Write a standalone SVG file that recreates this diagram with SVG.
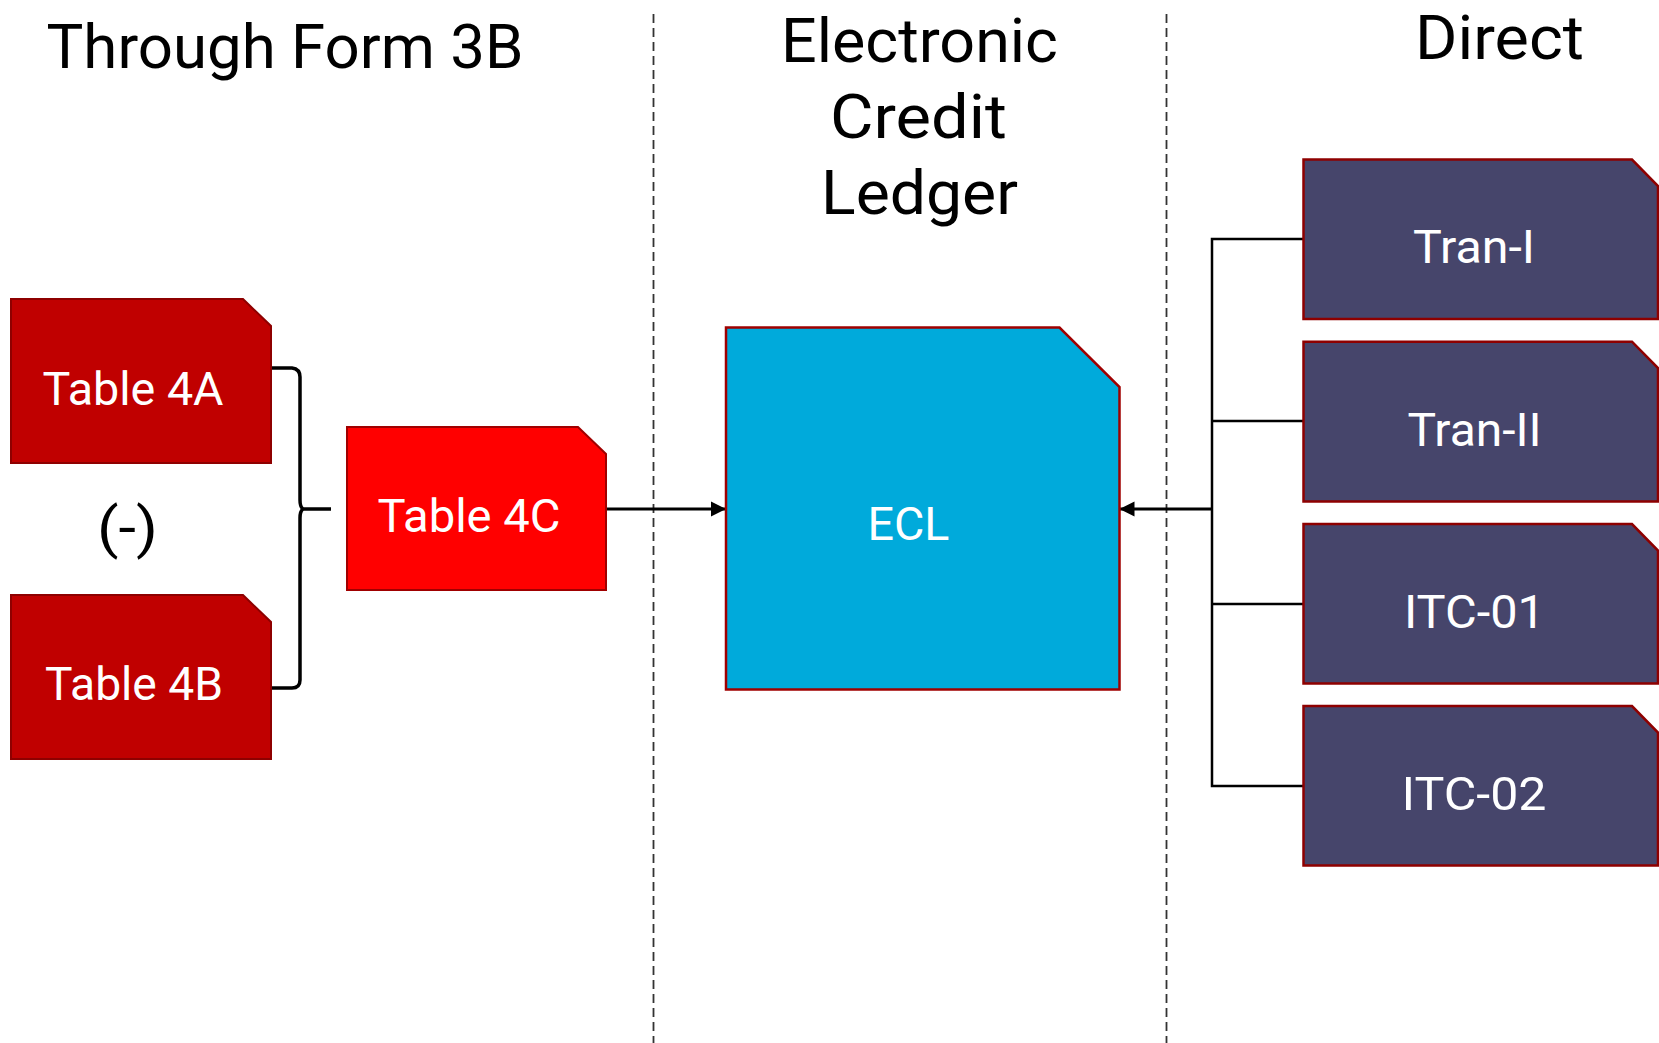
<svg xmlns="http://www.w3.org/2000/svg" width="1659" height="1043" viewBox="0 0 1659 1043">
<style>
.t{font-family:Roboto,"Liberation Sans",sans-serif;text-anchor:middle}
.title{font-size:62px;fill:#000}
.lbl{font-size:47px;fill:#fff}
.dark{fill:#C00000;stroke:#8E0000;stroke-width:2}
.red{fill:#FF0000;stroke:#A00000;stroke-width:2}
.ecl{fill:#00AADB;stroke:#A00000;stroke-width:2.5}
.navy{fill:#46456B;stroke:#8E0000;stroke-width:2.5}
.sep{stroke:#333;stroke-width:1.8;stroke-dasharray:9 5;fill:none}
.wire{stroke:#000;stroke-width:2.5;fill:none}
.thick{stroke-width:3.5}
</style>
<defs>
<marker id="arr" viewBox="0 0 10 10" refX="10" refY="5" markerWidth="15" markerHeight="16" markerUnits="userSpaceOnUse" orient="auto">
<path d="M0,0 L10,5 L0,10 z" fill="#000"/>
</marker>
</defs>
<rect width="1659" height="1043" fill="#fff"/>
<g id="separators">
<line class="sep" x1="653.5" y1="14" x2="653.5" y2="1043"/>
<line class="sep" x1="1166.5" y1="14" x2="1166.5" y2="1043"/>
</g>
<g id="titles">
<text class="t title" x="285" y="68" textLength="477" lengthAdjust="spacingAndGlyphs">Through Form 3B</text>
<text class="t title" x="919.5" y="62" textLength="277" lengthAdjust="spacingAndGlyphs">Electronic</text>
<text class="t title" x="918.5" y="138" textLength="177" lengthAdjust="spacingAndGlyphs">Credit</text>
<text class="t title" x="919.5" y="214" textLength="197" lengthAdjust="spacingAndGlyphs">Ledger</text>
<text class="t title" x="1499.5" y="59" textLength="169" lengthAdjust="spacingAndGlyphs">Direct</text>
</g>
<g id="connectors">
<path class="wire thick" d="M271,368 L292,368 Q300,369 300,377 L300,500 Q300,507 303,509 Q300,511 300,518 L300,680 Q300,688 292,688 L271,688 M303,509 L331,509"/>
<line class="wire" x1="606" y1="509" x2="726" y2="509" style="stroke-width:3.2" marker-end="url(#arr)"/>
<path class="wire" d="M1303,239 L1212,239 L1212,786 L1303,786 M1212,421 L1303,421 M1212,604 L1303,604"/>
<line class="wire" x1="1212" y1="509" x2="1119.5" y2="509" style="stroke-width:3" marker-end="url(#arr)"/>
</g>
<g id="table4a">
<path class="dark" d="M11,299 L243,299 L271,326 L271,463 L11,463 Z"/>
<text class="t lbl" x="133" y="405" textLength="181" lengthAdjust="spacingAndGlyphs">Table 4A</text>
</g>
<g id="minus">
<text class="t" x="127.5" y="547" font-size="56" fill="#000" textLength="61" lengthAdjust="spacingAndGlyphs">(-)</text>
</g>
<g id="table4b">
<path class="dark" d="M11,595 L243,595 L271,622 L271,759 L11,759 Z"/>
<text class="t lbl" x="134" y="700" textLength="178" lengthAdjust="spacingAndGlyphs">Table 4B</text>
</g>
<g id="table4c">
<path class="red" d="M347,427 L578,427 L606,454 L606,590 L347,590 Z"/>
<text class="t lbl" x="469" y="531.5" textLength="183" lengthAdjust="spacingAndGlyphs">Table 4C</text>
</g>
<g id="ecl">
<path class="ecl" d="M726,327.5 L1059.5,327.5 L1119.5,387 L1119.5,689.5 L726,689.5 Z"/>
<text class="t lbl" x="908.5" y="540" textLength="82" lengthAdjust="spacingAndGlyphs">ECL</text>
</g>
<g id="tran1">
<path class="navy" d="M1303.5,159.5 L1632,159.5 L1658,186 L1658,319 L1303.5,319 Z"/>
<text class="t lbl" x="1474" y="263" textLength="122" lengthAdjust="spacingAndGlyphs">Tran-I</text>
</g>
<g id="tran2">
<path class="navy" d="M1303.5,341.7 L1632,341.7 L1658,368 L1658,501.5 L1303.5,501.5 Z"/>
<text class="t lbl" x="1474.5" y="445.5" textLength="134" lengthAdjust="spacingAndGlyphs">Tran-II</text>
</g>
<g id="itc01">
<path class="navy" d="M1303.5,524 L1632,524 L1658,550.5 L1658,683.5 L1303.5,683.5 Z"/>
<text class="t lbl" x="1474.5" y="627.5" textLength="141" lengthAdjust="spacingAndGlyphs">ITC-01</text>
</g>
<g id="itc02">
<path class="navy" d="M1303.5,706 L1632,706 L1658,732.5 L1658,865.5 L1303.5,865.5 Z"/>
<text class="t lbl" x="1474" y="810" textLength="145" lengthAdjust="spacingAndGlyphs">ITC-02</text>
</g>
</svg>
